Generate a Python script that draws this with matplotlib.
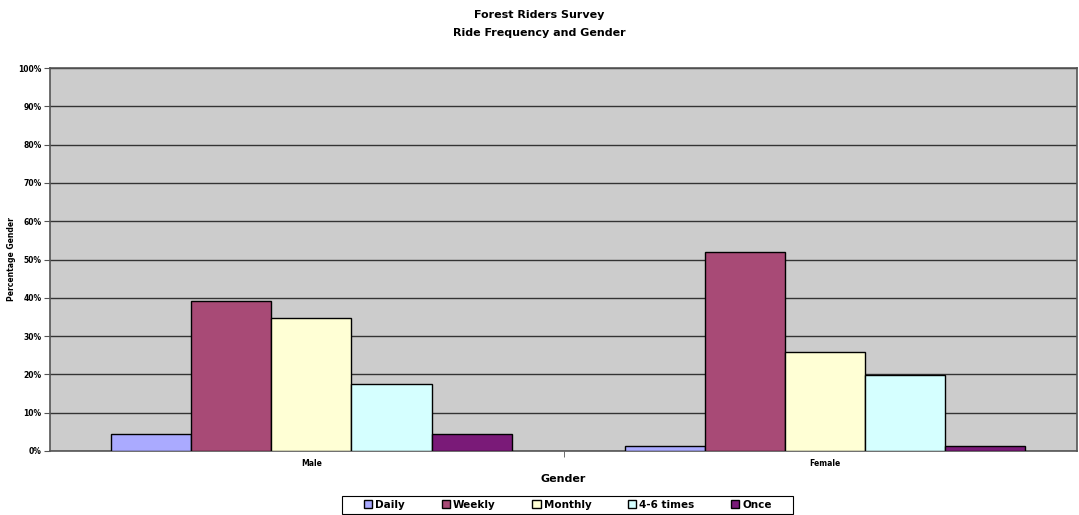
import numpy as np
import matplotlib
matplotlib.use("Agg")
import matplotlib.pyplot as plt
from matplotlib.patches import Rectangle
from matplotlib.ticker import PercentFormatter

# data
genders = ["Male", "Female"]
series = ["Daily", "Weekly", "Monthly", "4-6 times", "Once"]
daily = [4.35, 1.23]
weekly = [39.1, 51.9]
monthly = [34.8, 25.9]
four_six = [17.4, 19.75]
once = [4.35, 1.23]
colors = ["#AAAAFF", "#A84A76", "#FFFFD5", "#D5FFFF", "#7A1A78"]

values = [daily, weekly, monthly, four_six, once]

plt.rcParams['font.family'] = ['DejaVu Sans']
fig = plt.figure(figsize=(10.79, 5.15), dpi=100)
ax = fig.add_axes([50/1079, 1-451/515, 1027/1079, 383/515])
ax.set_facecolor("#CCCCCC")

x = np.arange(len(genders)) + 0.009
w = 0.156
for i, (name, vals) in enumerate(zip(series, values)):
    ax.bar(x + (i - 2) * w, vals, width=w, color=colors[i], edgecolor="black",
           linewidth=1, label=name, zorder=3)

ax.set_xlim(-0.5, 1.5)
ax.set_ylim(0, 100)
ax.set_yticks(np.arange(0, 101, 10))
ax.yaxis.set_major_formatter(PercentFormatter(decimals=0))
ax.grid(axis="y", color="#333333", linewidth=1, zorder=1)
ax.set_axisbelow(True)

ax.set_xticks(x)
ax.set_xticklabels(genders)
ax.set_xticks([0.5], minor=True)
ax.tick_params(axis="x", which="major", length=0, labelsize=5.5, pad=6)
ax.tick_params(axis="x", which="minor", length=4, color="#555555")
ax.tick_params(axis="y", length=4, labelsize=5.5, pad=2, color="#555555")
for lab in ax.get_xticklabels() + ax.get_yticklabels():
    lab.set_fontweight("bold")

for side in ["left", "bottom", "top", "right"]:
    ax.spines[side].set_color("#555555")
    ax.spines[side].set_linewidth(1.2)

ax.set_ylabel("Percentage Gender", fontsize=5.5, fontweight="bold", labelpad=2)
ax.set_xlabel("Gender", fontsize=8, fontweight="bold", labelpad=4)

fig.suptitle("Forest Riders Survey\nRide Frequency and Gender", fontsize=8,
             fontweight="bold", y=0.98, x=0.5, linespacing=1.9)

# legend box drawn separately so it can have wide side padding
fig.patches.append(Rectangle((342/1079, 1-514/515), 451/1079, 18/515,
                             transform=fig.transFigure, facecolor="white",
                             edgecolor="black", linewidth=0.8, zorder=0))
leg = fig.legend(loc="center", bbox_to_anchor=(568/1079, 1-505/515), ncol=5,
                 fontsize=7.5, frameon=False,
                 handlelength=0.8, handleheight=0.8, handletextpad=0.3,
                 columnspacing=3.5, borderpad=0.25, borderaxespad=0)
for t in leg.get_texts():
    t.set_fontweight("bold")

fig.savefig("out.png", dpi=100)
